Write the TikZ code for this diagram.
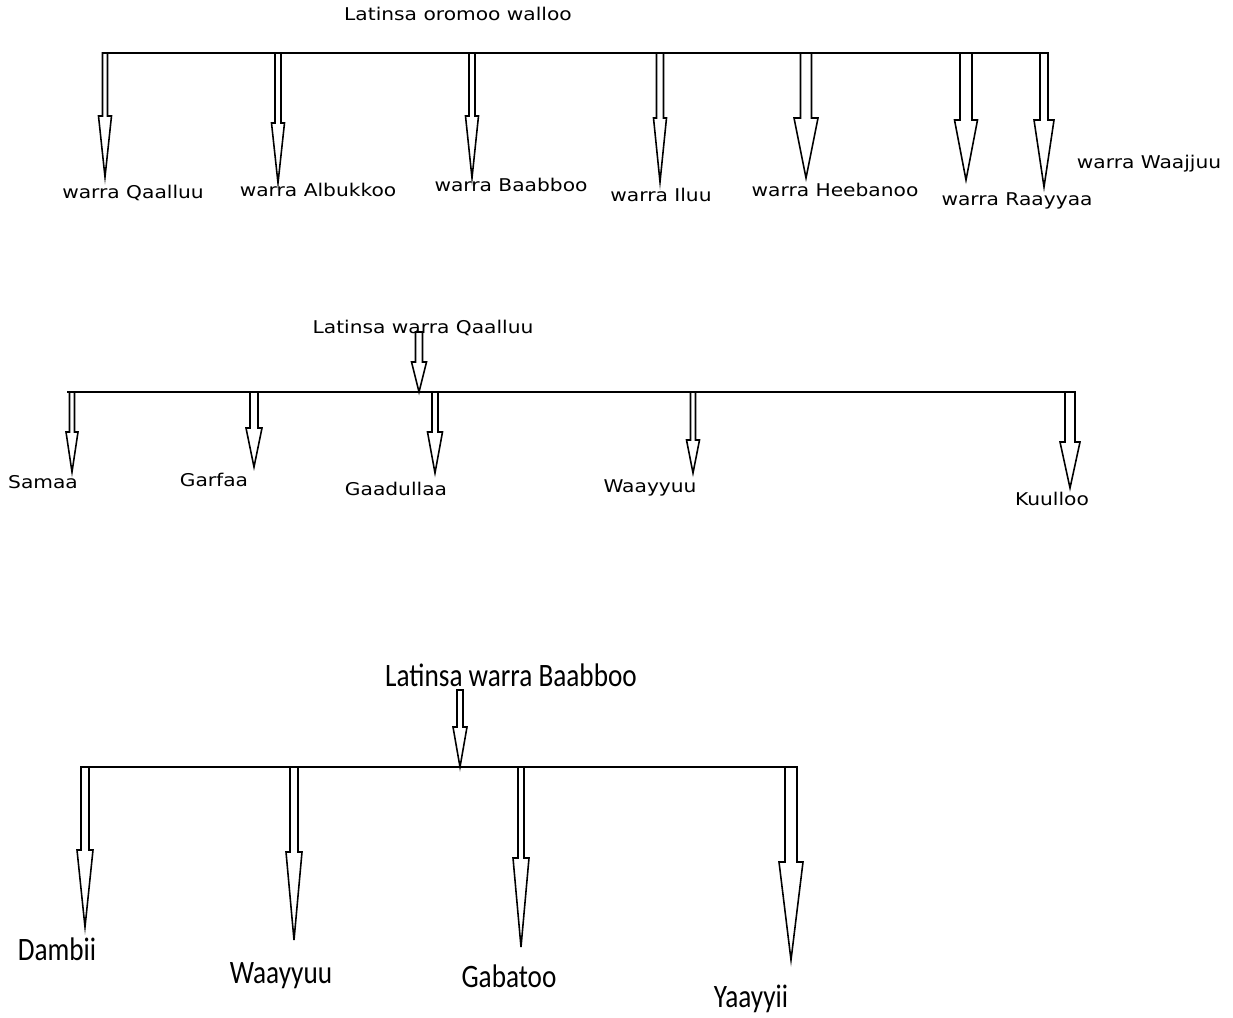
\documentclass[tikz,border=0pt]{standalone}
\usepackage{fontspec}
\newfontfamily\dejavu{DejaVu Sans}
\newfontfamily\carlito{Carlito}
\usetikzlibrary{calc}
\tikzset { tige/.store in=\tige, tige=3,
           pointe/.store in=\pointe, pointe=7,
           tete/.store in=\tete, tete=60}
\tikzset {petit/.style={font=\dejavu\fontsize{10}{12}\selectfont, xscale=1.15,
            inner sep=0pt, anchor=base},
          grand/.style={font=\carlito\fontsize{15.5}{18}\selectfont, yscale=1.2,
            inner sep=0pt, anchor=base},
          trait/.style={line width=0.9pt}}
% fleche creuse de #2 vers la pointe #3
\newcommand{\fleche}[3][]
{\begin{scope}[#1]
 \draw [trait] ($(#2)+(-\tige,0)$) -- ($(#3)+(-\tige,-\tete)$) -- ($(#3)+(-\pointe,-\tete)$)
   -- (#3) -- ($(#3)+(\pointe,-\tete)$) -- ($(#3)+(\tige,-\tete)$) -- ($(#2)+(\tige,0)$) -- cycle;
 \end{scope}}
\newcommand{\barre}[2]{\draw [trait] (#1) -- (#2);}

\begin{document}
\begin{tikzpicture}[x=0.02cm,y=-0.02cm]
  \useasboundingbox (0,0) rectangle (1233,1017);
  % walloo
  \node [petit] (titre1) at (458,21) {Latinsa oromoo walloo};
  \coordinate (g1) at (102,53);
  \coordinate (d1) at (1047,53);
  \coordinate (h11) at (105,53);  \coordinate (p11) at (105,177);
  \coordinate (h12) at (278,53);  \coordinate (p12) at (278,183);
  \coordinate (h13) at (472,53);  \coordinate (p13) at (472,178);
  \coordinate (h14) at (660,53);  \coordinate (p14) at (660,182);
  \coordinate (h15) at (806,53);  \coordinate (p15) at (806,178);
  \coordinate (h16) at (966,53);  \coordinate (p16) at (966,180);
  \coordinate (h17) at (1044,53); \coordinate (p17) at (1044,187);
  \fleche[tige=2.5,pointe=6.5,tete=61]{h11}{p11}
  \fleche[tige=3,pointe=6.5,tete=60]{h12}{p12}
  \fleche[tige=3,pointe=6.5,tete=62]{h13}{p13}
  \fleche[tige=3.5,pointe=6.5,tete=64]{h14}{p14}
  \fleche[tige=5.5,pointe=12,tete=60]{h15}{p15}
  \fleche[tige=6,pointe=11.5,tete=60]{h16}{p16}
  \fleche[tige=4,pointe=10,tete=67]{h17}{p17}
  \barre{g1}{d1}
  \node [petit] (qaalluu) at (133,198) {warra Qaalluu};
  \node [petit] (albukkoo) at (318,196) {warra Albukkoo};
  \node [petit] (baabboo) at (511,191) {warra Baabboo};
  \node [petit] (iluu) at (661,201) {warra Iluu};
  \node [petit] (heebanoo) at (835,196) {warra Heebanoo};
  \node [petit] (raayyaa) at (1017,205) {warra Raayyaa};
  \node [petit] (waajjuu) at (1149,168) {warra Waajjuu};
  % Qaalluu
  \node [petit] (titre2) at (423,333) {Latinsa warra Qaalluu};
  \coordinate (g2) at (67,392);
  \coordinate (d2) at (1066,392);
  \coordinate (h20) at (419,332); \coordinate (p20) at (419,392);
  \coordinate (h21) at (72,392);  \coordinate (p21) at (72,472);
  \coordinate (h22) at (254,392); \coordinate (p22) at (254,467);
  \coordinate (h23) at (435,392); \coordinate (p23) at (435,473);
  \coordinate (h24) at (693,392); \coordinate (p24) at (693,473);
  \coordinate (h25) at (1070,392); \coordinate (p25) at (1070,488);
  \fleche[tige=3.5,pointe=7.5,tete=30]{h20}{p20}
  \fleche[tige=2.5,pointe=6,tete=40]{h21}{p21}
  \fleche[tige=4,pointe=8,tete=39]{h22}{p22}
  \fleche[tige=3,pointe=7.5,tete=41]{h23}{p23}
  \fleche[tige=2.5,pointe=6.5,tete=33]{h24}{p24}
  \fleche[tige=5,pointe=10,tete=46]{h25}{p25}
  \barre{g2}{d2}
  \node [petit] (samaa) at (43,488) {Samaa};
  \node [petit] (garfaa) at (214,486) {Garfaa};
  \node [petit] (gaadullaa) at (396,495) {Gaadullaa};
  \node [petit] (waayyuu) at (650,492) {Waayyuu};
  \node [petit] (kuulloo) at (1052,505) {Kuulloo};
  % Baabboo
  \node [grand] (titre3) at (511,686) {Latinsa warra Baabboo};
  \coordinate (g3) at (80,767);
  \coordinate (d3) at (797,767);
  \coordinate (h30) at (460,690); \coordinate (p30) at (460,767);
  \coordinate (h31) at (85,767);  \coordinate (p31) at (85,927);
  \coordinate (h32) at (294,767); \coordinate (p32) at (294,940);
  \coordinate (h33) at (521,767); \coordinate (p33) at (521,947);
  \coordinate (h34) at (791,767); \coordinate (p34) at (791,960);
  \fleche[tige=3,pointe=7,tete=40]{h30}{p30}
  \fleche[tige=4,pointe=8,tete=77]{h31}{p31}
  \fleche[tige=4,pointe=8,tete=88]{h32}{p32}
  \fleche[tige=3,pointe=8,tete=89]{h33}{p33}
  \fleche[tige=6,pointe=12,tete=98]{h34}{p34}
  \barre{g3}{d3}
  \node [grand] (dambii) at (57,960) {Dambii};
  \node [grand] (waayyuu2) at (281,983) {Waayyuu};
  \node [grand] (gabatoo) at (509,987) {Gabatoo};
  \node [grand] (yaayyii) at (751,1007) {Yaayyii};
\end{tikzpicture}
\end{document}
